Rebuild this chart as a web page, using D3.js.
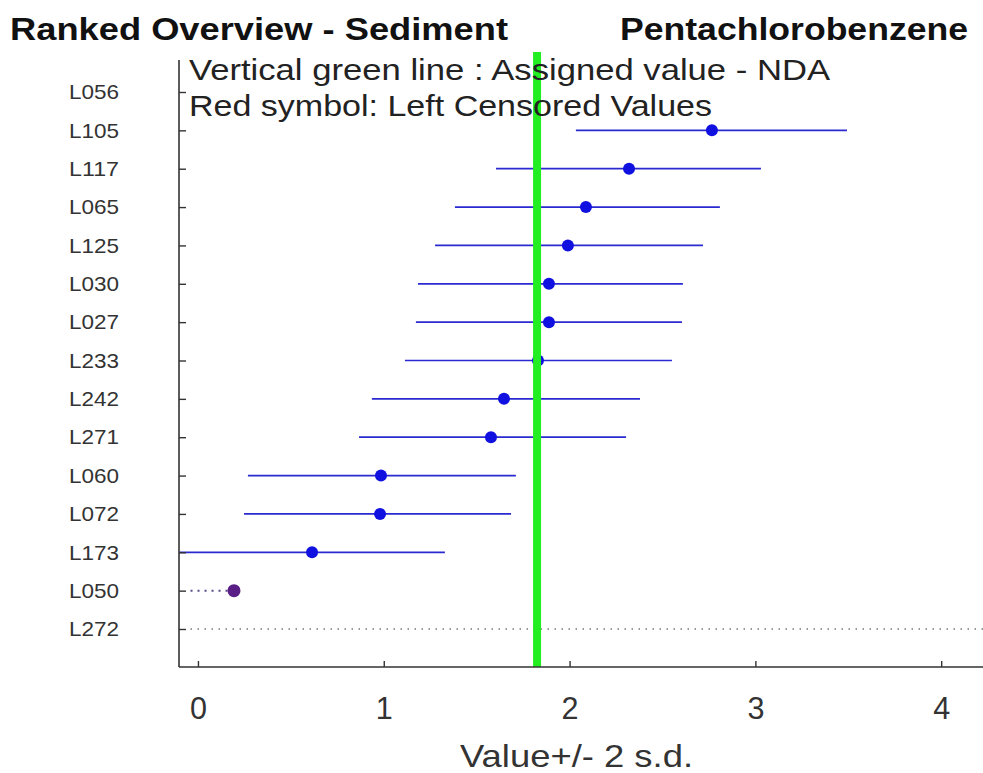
<!DOCTYPE html>
<html><head><meta charset="utf-8">
<script src="https://cdn.jsdelivr.net/npm/d3@7"></script>
<style>body{margin:0;background:#fff}svg{display:block}text{font-family:"Liberation Sans",Arial,sans-serif}</style>
</head><body><div id="chart"></div>
<script>
const labs = ["L056","L105","L117","L065","L125","L030","L027","L233","L242","L271","L060","L072","L173","L050","L272"];
const values = [null,2.766,2.32,2.088,1.991,1.889,1.889,1.83,1.647,1.577,0.985,0.98,0.614,0.194,null];
const lows =   [null,2.034,1.604,1.383,1.276,1.184,1.173,1.114,0.936,0.867,0.269,0.248,-0.10,null,null];
const highs =  [null,3.493,3.030,2.809,2.718,2.610,2.605,2.551,2.379,2.304,1.711,1.685,1.329,null,null];
const censoredLab = ["L050"];
const censoredFrom = [-0.04];
const missingLab = ["L272"];
const assigned = 1.825;
const xTicks = [0,1,2,3,4];

const W=983,H=773;
const svg=d3.select("#chart").append("svg").attr("width",W).attr("height",H);
const x=d3.scaleLinear().domain([-0.102,4.225]).range([179,983]);
const y=d3.scaleLinear().domain([0,14]).range([92,629]);
const pTop=60,pBot=667;

svg.append("defs").append("clipPath").attr("id","clip").append("rect").attr("x",179).attr("y",pTop).attr("width",W-179).attr("height",pBot-pTop);
const g=svg.append("g").attr("clip-path","url(#clip)");

const rows=labs.map((l,i)=>({l,i,v:values[i],lo:lows[i],hi:highs[i]}));
g.selectAll("line.err").data(rows.filter(d=>d.lo!=null)).join("line")
 .attr("x1",d=>x(d.lo)).attr("x2",d=>x(d.hi)).attr("y1",d=>y(d.i)).attr("y2",d=>y(d.i))
 .attr("stroke","#2a2ad0").attr("stroke-width",1.7);
censoredLab.forEach((l,k)=>{
  const i=labs.indexOf(l);
  g.append("line").attr("x1",x(censoredFrom[k])).attr("x2",x(values[i])).attr("y1",y(i)).attr("y2",y(i))
   .attr("stroke","#5a4a8a").attr("stroke-width",2).attr("stroke-dasharray","2,5");
});
missingLab.forEach(l=>{
  const i=labs.indexOf(l);
  g.append("line").attr("x1",x(-0.04)).attr("x2",W).attr("y1",y(i)).attr("y2",y(i))
   .attr("stroke","#777").attr("stroke-width",1.5).attr("stroke-dasharray","1.5,5.5");
});
g.selectAll("circle.pt").data(rows.filter(d=>d.v!=null)).join("circle")
 .attr("cx",d=>x(d.v)).attr("cy",d=>y(d.i)).attr("r",d=>censoredLab.includes(d.l)?6.5:6)
 .attr("fill",d=>censoredLab.includes(d.l)?"#5a1f86":"#1010e0");
svg.append("line").attr("x1",x(assigned)).attr("x2",x(assigned)).attr("y1",52).attr("y2",pBot)
 .attr("stroke","#22ee22").attr("stroke-width",8);

const ax=svg.append("g").attr("stroke","#333").attr("stroke-width",1.6);
ax.append("line").attr("x1",179).attr("x2",179).attr("y1",pTop).attr("y2",pBot);
ax.append("line").attr("x1",179).attr("x2",W).attr("y1",pBot).attr("y2",pBot);
const xa=svg.append("g").attr("transform",`translate(0,${pBot})`)
 .call(d3.axisBottom(x).tickValues(xTicks).tickSize(-6).tickPadding(30).tickFormat(d3.format("d")));
xa.select(".domain").remove();
xa.selectAll("line").attr("stroke","#333").attr("stroke-width",1.4);
xa.selectAll("text").attr("font-size",31).attr("fill","#333").attr("textLength",17).attr("lengthAdjust","spacingAndGlyphs");
const ya=svg.append("g").attr("transform","translate(179,0)")
 .call(d3.axisLeft(y).tickValues(d3.range(labs.length)).tickSize(-7).tickPadding(60).tickFormat(i=>labs[i]));
ya.select(".domain").remove();
ya.selectAll("line").attr("stroke","#333").attr("stroke-width",1.4);
ya.selectAll("text").attr("font-size",21).attr("fill","#333").attr("textLength",50).attr("lengthAdjust","spacingAndGlyphs");

svg.append("text").attr("x",10).attr("y",40).attr("font-size",32).attr("font-weight","bold").attr("fill","#111")
 .attr("textLength",498).attr("lengthAdjust","spacingAndGlyphs").text("Ranked Overview - Sediment");
svg.append("text").attr("x",620).attr("y",40).attr("font-size",32).attr("font-weight","bold").attr("fill","#111")
 .attr("textLength",348).attr("lengthAdjust","spacingAndGlyphs").text("Pentachlorobenzene");
svg.append("text").attr("x",189).attr("y",80).attr("font-size",30).attr("fill","#222")
 .attr("textLength",641).attr("lengthAdjust","spacingAndGlyphs")
 .text("Vertical green line : Assigned value -  NDA");
svg.append("text").attr("x",189).attr("y",116).attr("font-size",30).attr("fill","#222")
 .attr("textLength",523).attr("lengthAdjust","spacingAndGlyphs")
 .text("Red symbol: Left Censored Values");
svg.append("text").attr("x",460).attr("y",767).attr("font-size",32).attr("fill","#333")
 .attr("textLength",233).attr("lengthAdjust","spacingAndGlyphs").text("Value+/- 2 s.d.");
</script></body></html>
